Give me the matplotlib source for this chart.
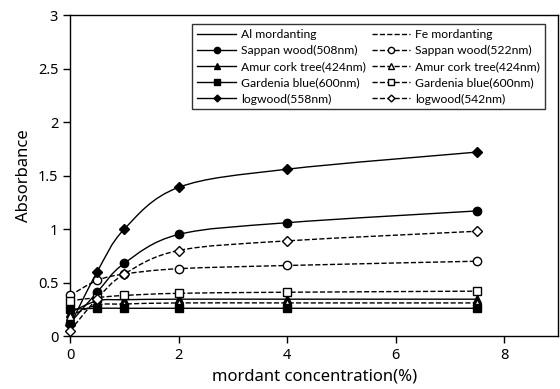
import numpy as np
import matplotlib
matplotlib.use('Agg')
from matplotlib import pyplot as plt
from matplotlib.path import Path
from matplotlib.patches import PathPatch
from matplotlib.lines import Line2D

plt.rcParams['font.family'] = ['Noto Sans', 'DejaVu Sans']

# 데이터
conc = [0, 0.5, 1, 2, 4, 7.5]
al_sappan = [0.12, 0.41, 0.68, 0.95, 1.06, 1.17]
fe_sappan = [0.38, 0.52, 0.58, 0.63, 0.66, 0.70]
al_amur = [0.22, 0.33, 0.34, 0.345, 0.345, 0.345]
fe_amur = [0.19, 0.29, 0.30, 0.31, 0.31, 0.31]
al_gardenia = [0.25, 0.26, 0.26, 0.26, 0.26, 0.26]
fe_gardenia = [0.33, 0.36, 0.38, 0.40, 0.41, 0.42]
al_logwood = [0.10, 0.60, 1.00, 1.39, 1.56, 1.72]
fe_logwood = [0.05, 0.35, 0.58, 0.80, 0.89, 0.98]

series = [
    ('Sappan wood(508nm)', al_sappan, 'o', 'k', '-'),
    ('Sappan wood(522nm)', fe_sappan, 'o', 'w', '--'),
    ('Amur cork tree(424nm)', al_amur, '^', 'k', '-'),
    ('Amur cork tree(424nm)', fe_amur, '^', 'w', '--'),
    ('Gardenia blue(600nm)', al_gardenia, 's', 'k', '-'),
    ('Gardenia blue(600nm)', fe_gardenia, 's', 'w', '--'),
    ('logwood(558nm)', al_logwood, 'D', 'k', '-'),
    ('logwood(542nm)', fe_logwood, 'D', 'w', '--'),
]


def smooth_path(x, y):
    # 엑셀식 부드러운 선 (베지어)
    pts = np.column_stack([x, y]).astype(float)
    n = len(pts)
    verts = [pts[0]]
    codes = [Path.MOVETO]
    for i in range(n - 1):
        p0 = pts[i - 1] if i > 0 else pts[i]
        p1 = pts[i]
        p2 = pts[i + 1]
        p3 = pts[i + 2] if i + 2 < n else pts[i + 1]
        c1 = p1 + (p2 - p0) / 6
        c2 = p2 - (p3 - p1) / 6
        verts += [c1, c2, p2]
        codes += [Path.CURVE4] * 3
    return Path(verts, codes)


fig = plt.figure(figsize=(5.6, 3.89), dpi=100)
ax = fig.add_axes([0.125, 0.136, 0.872, 0.825])

handles = []
for name, y, m, fc, ls in series:
    patch = PathPatch(smooth_path(conc, y), facecolor='none', edgecolor='k',
                      linestyle=ls, lw=1.0, zorder=2)
    ax.add_patch(patch)
    ms = 6 if m != 'D' else 5
    ax.plot(conc, y, linestyle='none', marker=m, markersize=ms,
            markerfacecolor=fc, markeredgecolor='k', markeredgewidth=1,
            zorder=3, clip_on=False)
    handles.append(Line2D([], [], color='k', linestyle=ls, lw=1.0, marker=m,
                          markersize=ms - 1.5, markerfacecolor=fc,
                          markeredgecolor='k', label=name))

al_h = Line2D([], [], color='k', linestyle='-', lw=1.0, label='Al mordanting')
fe_h = Line2D([], [], color='k', linestyle='--', lw=1.0, label='Fe mordanting')
left = [al_h] + handles[0::2]
right = [fe_h] + handles[1::2]
leg = ax.legend(left + right, [h.get_label() for h in left + right], ncol=2,
                loc='upper right', bbox_to_anchor=(0.985, 0.99),
                prop={'family': 'Lato', 'size': 8.7},
                frameon=True, fancybox=False, edgecolor='k', handlelength=3.2,
                labelspacing=0.42, columnspacing=0.5, handletextpad=0.4,
                borderpad=0.4)
leg.get_frame().set_linewidth(1.0)

ax.set_xlim(0, 9)
ax.set_ylim(0, 3)
ax.set_xticks([0, 2, 4, 6, 8])
ax.set_yticks([0, 0.5, 1, 1.5, 2, 2.5, 3])
ax.set_yticklabels(['0', '0.5', '1', '1.5', '2', '2.5', '3'])
ax.tick_params(direction='out', length=5, width=1, labelsize=10.5, colors='k')
for s in ['left', 'bottom', 'top', 'right']:
    ax.spines[s].set_linewidth(1.0)
ax.set_xlabel('mordant concentration(%)', fontsize=12)
ax.set_ylabel('Absorbance', fontsize=12)

fig.savefig('out.png', dpi=100)
